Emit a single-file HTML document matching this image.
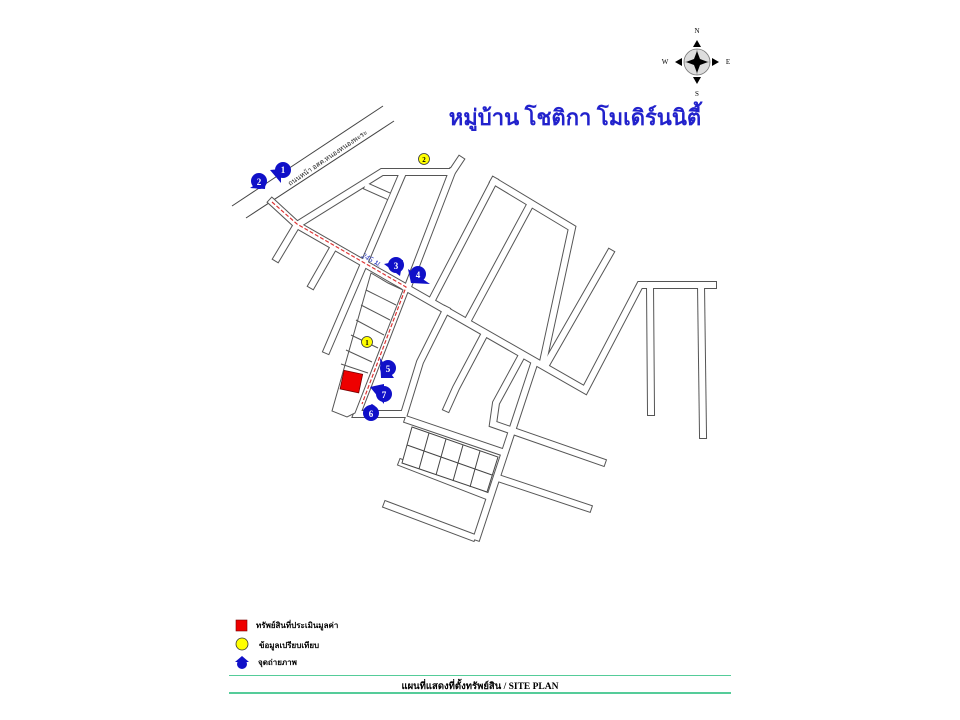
<!DOCTYPE html>
<html><head><meta charset="utf-8"><style>
html,body{margin:0;padding:0;background:#fff;}
svg{display:block;}
text{font-family:"Liberation Serif","DejaVu Sans",serif;}
</style></head><body>
<svg width="960" height="720" viewBox="0 0 960 720" xmlns="http://www.w3.org/2000/svg">
<defs>
<g id="roads">
<polyline points="272,202 297,225 585,390 640,285 713,285"/>
<polyline points="297,225 382,172 452,172 460,160"/>
<polyline points="452,172 409,284"/>
<polyline points="402,175 327,350"/>
<polyline points="368,187 386,195"/>
<polyline points="295,228 277,258"/>
<polyline points="332,250 312,285"/>
<polyline points="494,181 433,298"/>
<polyline points="494,181 572,228 543,362"/>
<polyline points="530,205 468,320"/>
<polyline points="610,253 547,363"/>
<polyline points="650,285 651,412"/>
<polyline points="701,285 703,435"/>
<polyline points="405,290 357,414 404,414 420,362 446,310"/>
<polyline points="483,337 456,388 447,408"/>
<polyline points="521,357 496,403 493,424 602,462"/>
<polyline points="534,364 477,537"/>
<polyline points="498,478 588,508"/>
<polyline points="408,420 502,452"/>
<polyline points="402,463 487,496"/>
<polyline points="387,505 472,537"/>
</g>
</defs>
<line x1="232" y1="206" x2="383" y2="106" stroke="#444" stroke-width="1"/>
<line x1="246" y1="218" x2="394" y2="121" stroke="#444" stroke-width="1"/>
<text x="0" y="0" font-size="7" fill="#222" transform="translate(290,186) rotate(-34)">ถนนหน้า อสค.หนองหนองพะระ</text>
<use href="#roads" fill="none" stroke="#555" stroke-width="8" stroke-linejoin="miter" stroke-linecap="square"/>
<use href="#roads" fill="none" stroke="#fff" stroke-width="6" stroke-linejoin="miter" stroke-linecap="square"/>
<polygon points="371,273 388,283 403,290 355,413 347,417 332,411" fill="#fff" stroke="#555" stroke-width="1"/>
<g stroke="#555" stroke-width="1">
<line x1="366" y1="290" x2="396" y2="305"/>
<line x1="361" y1="305" x2="390" y2="320"/>
<line x1="356" y1="320" x2="384" y2="335"/>
<line x1="351" y1="335" x2="378" y2="348"/>
<line x1="346" y1="350" x2="372" y2="362"/>
<line x1="341" y1="364" x2="368" y2="373"/>
</g>
<polygon points="412,427 498,457 487,492 402,463" fill="#fff" stroke="#444" stroke-width="1"/>
<g stroke="#444" stroke-width="1">
<line x1="407" y1="445" x2="492" y2="475"/>
<line x1="429" y1="433" x2="419" y2="469"/>
<line x1="446" y1="439" x2="436" y2="475"/>
<line x1="463" y1="445" x2="453" y2="481"/>
<line x1="480" y1="451" x2="470" y2="487"/>
</g>
<polyline points="272,202 297,224 406,287 362,404" fill="none" stroke="#d33" stroke-width="1.2" stroke-dasharray="4,2"/>
<text x="0" y="0" font-size="8" font-style="italic" fill="#2233bb" transform="translate(361,257) rotate(28)">245 ม.</text>
<rect x="342" y="372" width="19" height="19" fill="#e00" stroke="#700" stroke-width="0.8" transform="rotate(12 351 381)"/>
<g stroke="#333" stroke-width="0.8" fill="#ff0">
<circle cx="367" cy="342" r="5.5"/><circle cx="424" cy="159" r="5.5"/></g>
<g font-size="7" font-weight="bold" fill="#000" text-anchor="middle">
<text x="367" y="345">1</text><text x="424" y="162">2</text></g>
<g fill="#1010c8">
<circle cx="283" cy="170" r="8"/><polygon points="270,170 281,169 281,183"/>
<circle cx="259" cy="181" r="8"/><polygon points="250,188 265,189 266,178"/>
<circle cx="396" cy="265" r="8"/><polygon points="384,264 403,260 400,276"/>
<circle cx="418" cy="274" r="8"/><polygon points="408,269 411,283 430,284"/>
<circle cx="388" cy="368" r="8"/><polygon points="380,358 381,378 394,378"/>
<circle cx="384" cy="394" r="8"/><polygon points="370,387 384,384 384,404"/>
<circle cx="371" cy="413" r="8"/><polygon points="362,410 372,404 375,406"/>
</g>
<g font-size="9" font-weight="bold" fill="#fff" text-anchor="middle">
<text x="283" y="173">1</text><text x="259" y="185">2</text><text x="396" y="269">3</text><text x="418" y="278">4</text>
<text x="388" y="372">5</text><text x="371" y="417">6</text><text x="384" y="398">7</text></g>
<text x="575" y="125" font-size="22" font-weight="bold" fill="#2222cc" text-anchor="middle" font-family="'Liberation Sans','DejaVu Sans',sans-serif">หมู่บ้าน โชติกา โมเดิร์นนิตี้</text>
<g>
<circle cx="697" cy="62" r="13" fill="#ddd" stroke="#777" stroke-width="0.8"/>
<line x1="684" y1="62" x2="710" y2="62" stroke="#888" stroke-width="0.6"/>
<line x1="697" y1="49" x2="697" y2="75" stroke="#888" stroke-width="0.6"/>
<polygon points="697,51 700,59 708,62 700,65 697,73 694,65 686,62 694,59" fill="#000"/>
<polygon points="697,40 693,47 701,47" fill="#000"/>
<polygon points="697,84 693,77 701,77" fill="#000"/>
<polygon points="675,62 682,58 682,66" fill="#000"/>
<polygon points="719,62 712,58 712,66" fill="#000"/>
<g font-size="7" font-family="'Liberation Sans',sans-serif" text-anchor="middle" fill="#000">
<text x="697" y="33">N</text><text x="697" y="96">S</text><text x="665" y="64">W</text><text x="728" y="64">E</text></g>
</g>
<rect x="236" y="620" width="11" height="11" fill="#e00" stroke="#700" stroke-width="0.6"/>
<circle cx="242" cy="644" r="6" fill="#ff0" stroke="#333" stroke-width="0.8"/>
<polygon points="235,662 242,656 249,662" fill="#1010c8"/><circle cx="242" cy="664" r="5" fill="#1010c8"/>
<g font-size="8" font-weight="bold" fill="#000" font-family="'Liberation Sans','DejaVu Sans',sans-serif">
<text x="256" y="628">ทรัพย์สินที่ประเมินมูลค่า</text>
<text x="259" y="648">ข้อมูลเปรียบเทียบ</text>
<text x="258" y="665">จุดถ่ายภาพ</text></g>
<line x1="229" y1="675.5" x2="731" y2="675.5" stroke="#5c9" stroke-width="1"/>
<line x1="229" y1="693" x2="731" y2="693" stroke="#5c9" stroke-width="2"/>
<text x="480" y="689" font-size="9.5" font-weight="bold" fill="#000" text-anchor="middle">แผนที่แสดงที่ตั้งทรัพย์สิน / SITE PLAN</text>
</svg>
</body></html>
